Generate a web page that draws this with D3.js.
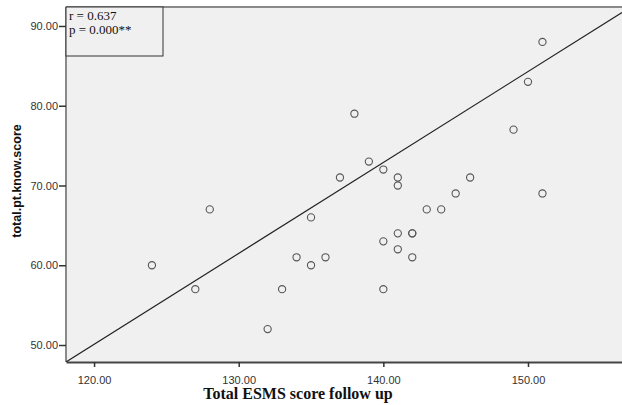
<!DOCTYPE html>
<html>
<head>
<meta charset="utf-8">
<script src="https://cdn.jsdelivr.net/npm/d3@7/dist/d3.min.js"></script>
<style>
  html, body { margin: 0; padding: 0; background: #ffffff; overflow: hidden; }
  svg { display: block; }
</style>
</head>
<body>
<svg id="chart" width="622" height="405"></svg>
<script>
// Follow-up ESMS total (x) vs patient knowledge total (y)
const esmsScores = [124, 127, 128, 132, 133, 134, 135, 135, 136, 137, 138, 139, 140, 140, 140,
                    141, 141, 141, 141, 142, 142, 142, 143, 144, 145, 146, 149, 150, 151, 151];
const knowScores = [60, 57, 67, 52, 57, 61, 60, 66, 61, 71, 79, 73, 72, 63, 57,
                    71, 70, 64, 62, 64, 64, 61, 67, 67, 69, 71, 77, 83, 88, 69];

const xTicks = [120, 130, 140, 150];
const yTicks = [50, 60, 70, 80, 90];
const xDomain = [118.06, 156.5];
const yDomain = [47.87, 92.38];

// Reference line endpoints (data units)
const refLineX = [118.06, 156.5];
const refLineY = [47.87, 91.7];

const statLines = ["r = 0.637", "p = 0.000**"];

const svg = d3.select("#chart");
const plotLeft = 66, plotTop = 7, plotRight = 622, plotBottom = 362;

const x = d3.scaleLinear().domain(xDomain).range([plotLeft, plotRight]);
const y = d3.scaleLinear().domain(yDomain).range([plotBottom, plotTop]);

// plot background
svg.append("rect")
  .attr("x", plotLeft).attr("y", plotTop)
  .attr("width", plotRight - plotLeft + 10).attr("height", plotBottom - plotTop)
  .attr("fill", "#f0f0f0");

// frame: top and left
svg.append("line").attr("x1", plotLeft).attr("x2", plotRight + 10).attr("y1", plotTop).attr("y2", plotTop)
  .attr("stroke", "#8a8a8a").attr("stroke-width", 2);
svg.append("line").attr("x1", plotLeft).attr("x2", plotLeft).attr("y1", plotTop).attr("y2", plotBottom)
  .attr("stroke", "#8a8a8a").attr("stroke-width", 2);

// axes
const xAxis = d3.axisBottom(x).tickValues(xTicks).tickFormat(d3.format(".2f"))
  .tickSize(5).tickSizeOuter(0);
const yAxis = d3.axisLeft(y).tickValues(yTicks).tickFormat(d3.format(".2f"))
  .tickSize(7).tickSizeOuter(0);

const gx = svg.append("g").attr("transform", `translate(0,${plotBottom})`).call(xAxis);
gx.select(".domain").attr("stroke", "#444").attr("stroke-width", 2);
gx.selectAll(".tick line").attr("stroke", "#333").attr("stroke-width", 1.5);
gx.selectAll(".tick text")
  .attr("font-family", "Liberation Sans, Arial, sans-serif")
  .attr("font-size", 11).attr("fill", "#333").attr("dy", "1.3em");

const gy = svg.append("g").attr("transform", `translate(${plotLeft},0)`).call(yAxis);
gy.select(".domain").remove();
gy.selectAll(".tick line").attr("stroke", "#333").attr("stroke-width", 1.5);
gy.selectAll(".tick text")
  .attr("font-family", "Liberation Sans, Arial, sans-serif")
  .attr("font-size", 11).attr("fill", "#333").attr("x", -8);

// clip to plot area
svg.append("clipPath").attr("id", "plotClip")
  .append("rect").attr("x", plotLeft).attr("y", plotTop)
  .attr("width", plotRight - plotLeft + 10).attr("height", plotBottom - plotTop);

// reference line
svg.append("line")
  .attr("clip-path", "url(#plotClip)")
  .attr("x1", x(refLineX[0])).attr("y1", y(refLineY[0]))
  .attr("x2", x(refLineX[1])).attr("y2", y(refLineY[1]))
  .attr("stroke", "#222").attr("stroke-width", 1.2);

// points
svg.append("g").selectAll("circle")
  .data(esmsScores.map((v, i) => [v, knowScores[i]]))
  .join("circle")
  .attr("cx", d => x(d[0])).attr("cy", d => y(d[1]))
  .attr("r", 3.6)
  .attr("fill", "none").attr("stroke", "#555").attr("stroke-width", 1.1);

// statistics box
svg.append("rect")
  .attr("x", plotLeft).attr("y", plotTop)
  .attr("width", 97).attr("height", 49)
  .attr("fill", "#f0f0f0").attr("stroke", "#333").attr("stroke-width", 1);
svg.append("g").selectAll("text")
  .data(statLines).join("text")
  .attr("x", plotLeft + 3).attr("y", (d, i) => plotTop + 13 + i * 14)
  .attr("font-family", "Liberation Serif, Times New Roman, serif")
  .attr("font-size", 13).attr("fill", "#111")
  .text(d => d);

// axis titles
svg.append("text")
  .attr("x", 298).attr("y", 399)
  .attr("text-anchor", "middle")
  .attr("font-family", "Liberation Serif, Times New Roman, serif")
  .attr("font-weight", "bold").attr("font-size", 16).attr("fill", "#111")
  .text("Total ESMS score follow up");

svg.append("text")
  .attr("transform", "translate(21,181) rotate(-90)")
  .attr("text-anchor", "middle")
  .attr("font-family", "Liberation Sans, Arial, sans-serif")
  .attr("font-weight", "bold").attr("font-size", 12.5).attr("fill", "#111")
  .text("total.pt.know.score");
</script>
</body>
</html>
